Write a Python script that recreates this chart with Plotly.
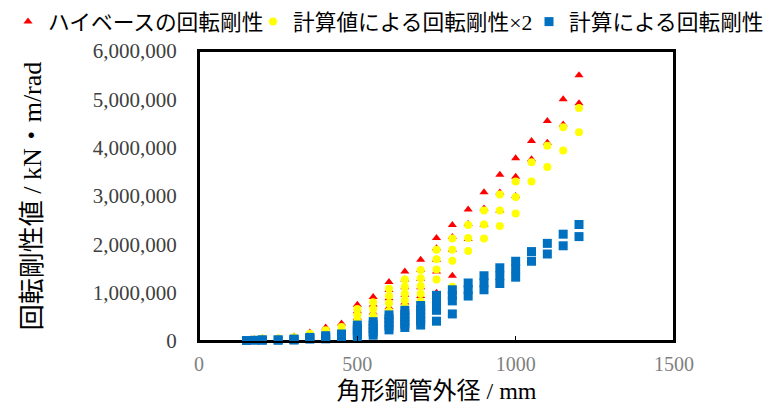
import plotly.graph_objects as go

# 角形鋼管外径 (mm) for every plotted point (shared by the three series)
outer_diameter_mm = [
    150, 175, 200, 200, 250, 250, 300, 300, 300, 350, 350, 350,
    400, 400, 400, 450, 450, 450, 500, 500, 500, 500, 500,
    550, 550, 550, 550, 550, 600, 600, 600, 600, 600,
    650, 650, 650, 650, 650, 650, 700, 700, 700, 700, 700, 700,
    750, 750, 750, 750, 750, 800, 800, 800, 800,
    850, 850, 850, 900, 900, 900, 950, 950, 950, 1000, 1000, 1000,
    1050, 1050, 1100, 1100, 1150, 1150, 1200, 1200,
]

# ハイベースの回転剛性 (kN・m/rad)
highbase_stiffness = [
    23000, 34000, 34000, 57000, 34000, 57000, 45000, 68000, 91000, 91000, 132000, 175000,
    102000, 182000, 280000, 148000, 240000, 360000, 205000, 340000, 480000, 615000, 750000,
    272000, 430000, 590000, 750000, 910000, 520000, 700000, 885000, 1055000, 1220000,
    635000, 795000, 955000, 1110000, 1270000, 1440000, 750000, 930000, 1110000, 1290000, 1475000, 1680000,
    1000000, 1440000, 1680000, 1920000, 2130000, 1350000, 1890000, 2150000, 2400000,
    2110000, 2420000, 2720000, 2410000, 2740000, 3080000, 2700000, 3070000, 3440000, 3000000, 3400000, 3780000,
    3760000, 4140000, 4100000, 4550000, 4480000, 5000000, 4920000, 5500000,
]

# 計算値による回転剛性×2 (kN・m/rad)
calc_stiffness_x2 = [
    20000, 30000, 30000, 50000, 30000, 50000, 40000, 60000, 80000, 80000, 115000, 150000,
    90000, 160000, 220000, 130000, 210000, 290000, 180000, 300000, 420000, 540000, 660000,
    240000, 380000, 520000, 660000, 800000, 460000, 620000, 780000, 930000, 1080000,
    560000, 700000, 840000, 980000, 1120000, 1270000, 660000, 820000, 980000, 1140000, 1300000, 1470000,
    820000, 1270000, 1480000, 1690000, 1890000, 1120000, 1660000, 1890000, 2120000,
    1860000, 2130000, 2400000, 2120000, 2410000, 2700000, 2380000, 2700000, 3030000, 2640000, 2980000, 3300000,
    3300000, 3700000, 3600000, 4040000, 3940000, 4420000, 4320000, 4820000,
]

# 計算による回転剛性 (kN・m/rad)
calc_stiffness = [
    10000, 15000, 15000, 25000, 15000, 25000, 20000, 30000, 40000, 40000, 58000, 75000,
    45000, 80000, 110000, 65000, 105000, 145000, 90000, 150000, 210000, 270000, 330000,
    120000, 190000, 260000, 330000, 400000, 230000, 310000, 390000, 465000, 540000,
    280000, 350000, 420000, 490000, 560000, 635000, 330000, 410000, 490000, 570000, 650000, 735000,
    410000, 635000, 740000, 845000, 945000, 560000, 830000, 945000, 1060000,
    930000, 1065000, 1200000, 1060000, 1205000, 1350000, 1190000, 1350000, 1515000, 1320000, 1490000, 1650000,
    1650000, 1850000, 1800000, 2020000, 1970000, 2210000, 2160000, 2410000,
]

series_names = ["ハイベースの回転剛性", "計算値による回転剛性×2", "計算による回転剛性"]
x_ticks = [0, 500, 1000, 1500]
y_ticks = [0, 1000000, 2000000, 3000000, 4000000, 5000000, 6000000]

SERIF = "Liberation Serif, Noto Sans CJK JP, serif"
LEG_FONT = "Liberation Serif, Noto Sans CJK JP, sans-serif"

fig = go.Figure()
fig.add_trace(go.Scatter(
    x=outer_diameter_mm, y=highbase_stiffness, mode="markers", name=series_names[0],
    marker=dict(symbol="triangle-up", size=8, color="#FF0000"),
    cliponaxis=False, legend="legend",
))
fig.add_trace(go.Scatter(
    x=outer_diameter_mm, y=calc_stiffness_x2, mode="markers", name=series_names[1],
    marker=dict(symbol="circle", size=8, color="#FFFF00"),
    cliponaxis=False, legend="legend2",
))
fig.add_trace(go.Scatter(
    x=outer_diameter_mm, y=calc_stiffness, mode="markers", name=series_names[2],
    marker=dict(symbol="square", size=9, color="#0070C0"),
    cliponaxis=False, legend="legend3",
))

W, H = 768, 407
leg_common = dict(orientation="h", xref="container", yref="container",
                  yanchor="middle", y=1 - 22 / H, xanchor="left",
                  bgcolor="rgba(0,0,0,0)", borderwidth=0,
                  font=dict(family=LEG_FONT, size=21.7, color="#000000"))

fig.update_layout(
    width=W, height=H,
    margin=dict(l=199, r=94, t=51, b=66, pad=0, autoexpand=False),
    paper_bgcolor="#FFFFFF", plot_bgcolor="#FFFFFF",
    showlegend=True,
    legend=dict(x=8 / W, **leg_common),
    legend2=dict(x=253 / W, **leg_common),
    legend3=dict(x=529 / W, **leg_common),
    # plot-area frame (top and right edges as in the reference)
    shapes=[dict(type="rect", xref="paper", yref="paper", x0=0, x1=1, y0=0, y1=1,
                 line=dict(color="#000000", width=2), fillcolor="rgba(0,0,0,0)",
                 layer="below")],
    xaxis=dict(
        range=[0, 1500], tickvals=x_ticks, ticktext=[str(v) for v in x_ticks],
        showgrid=False, zeroline=False,
        showline=True, linecolor="#000000", linewidth=2, mirror=True,
        ticks="inside", ticklen=5, tickcolor="#000000", tickwidth=1,
        ticklabelstandoff=4,
        tickfont=dict(family=SERIF, size=20, color="#7F7F7F"),
        title=dict(text="角形鋼管外径 / mm", standoff=8,
                   font=dict(family=SERIF, size=24, color="#000000")),
        automargin=False,
    ),
    yaxis=dict(
        range=[0, 6000000], tickvals=y_ticks, tickformat=",d",
        showgrid=False, zeroline=False,
        showline=True, linecolor="#000000", linewidth=2, mirror=True,
        ticks="", ticklabelstandoff=16,
        tickfont=dict(family=SERIF, size=21, color="#404040"),
        title=dict(text="回転剛性値 / kN・m/rad", standoff=44,
                   font=dict(family=SERIF, size=26, color="#000000")),
        automargin=False,
    ),
)

fig.write_html("out.html", config={"displayModeBar": False},
               post_script="document.body.style.margin='0';document.body.style.overflow='hidden';")
